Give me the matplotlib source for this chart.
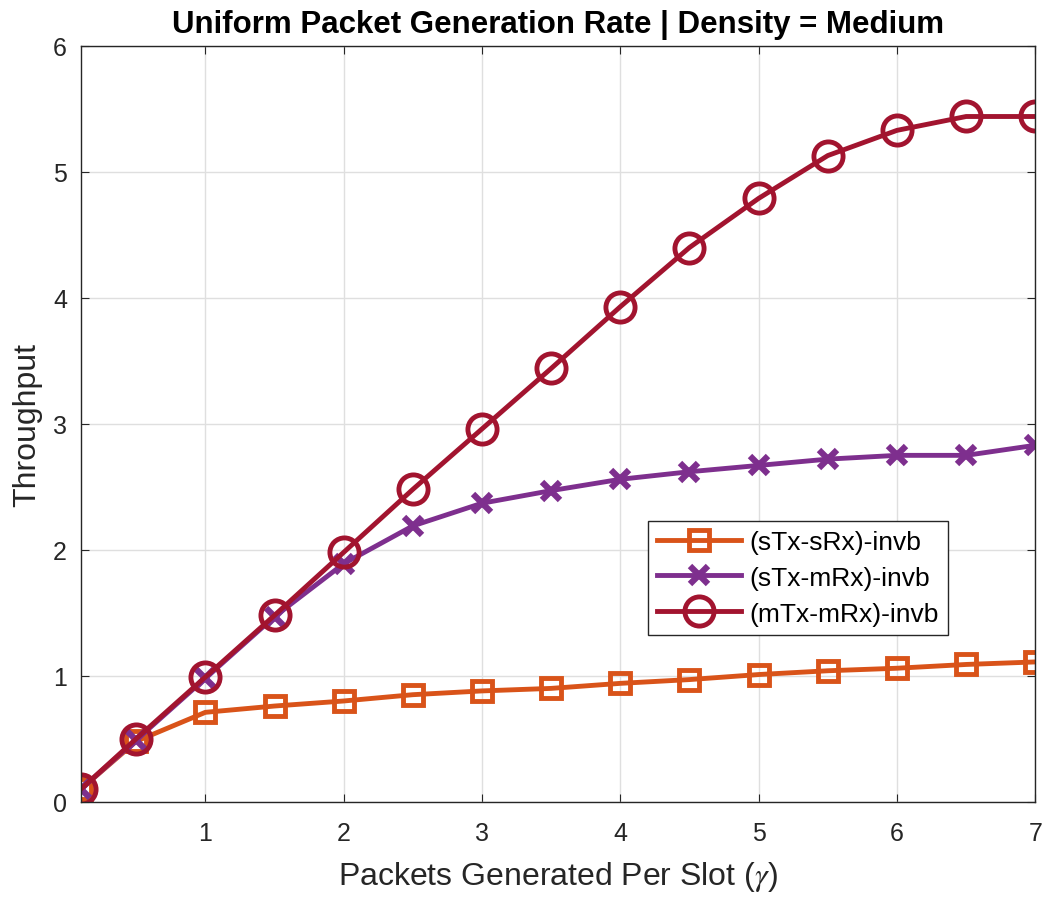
import matplotlib
matplotlib.use("Agg")
import matplotlib.pyplot as plt

plt.rcParams['font.family'] = ['Liberation Sans', 'DejaVu Sans']
plt.rcParams['mathtext.fontset'] = 'stix'

gamma = [0.1, 0.5, 1, 1.5, 2, 2.5, 3, 3.5, 4, 4.5, 5, 5.5, 6, 6.5, 7]
stx_srx = [0.10, 0.48, 0.71, 0.76, 0.80, 0.85, 0.88, 0.90, 0.94, 0.97, 1.01, 1.04, 1.06, 1.09, 1.11]
stx_mrx = [0.10, 0.49, 0.98, 1.47, 1.89, 2.19, 2.37, 2.47, 2.56, 2.62, 2.67, 2.72, 2.75, 2.75, 2.83]
mtx_mrx = [0.10, 0.50, 0.99, 1.48, 1.98, 2.48, 2.96, 3.44, 3.93, 4.40, 4.79, 5.13, 5.33, 5.44, 5.44]
labels = ['(sTx-sRx)-invb', '(sTx-mRx)-invb', '(mTx-mRx)-invb']
xticks = [1, 2, 3, 4, 5, 6, 7]
yticks = [0, 1, 2, 3, 4, 5, 6]

fig = plt.figure(figsize=(10.5, 9.03), dpi=100)
ax = fig.add_axes([0.077, 0.111, 0.909, 0.837])

ax.plot(gamma, stx_srx, color='#D95319', lw=3.5, marker='s', ms=14, mfc='none', mew=3.5, label=labels[0])
ax.plot(gamma, stx_mrx, color='#7E2F8E', lw=3.5, marker='x', ms=13, mew=4.5, label=labels[1])
ax.plot(gamma, mtx_mrx, color='#A2142F', lw=3.5, marker='o', ms=21, mfc='none', mew=3.5, label=labels[2])

ax.set_xlim(0.1, 7)
ax.set_ylim(0, 6)
ax.set_xticks(xticks)
ax.set_yticks(yticks)
ax.tick_params(direction='in', labelsize=18, length=6, colors='#262626', top=True, right=True, pad=10)
ax.tick_params(axis='x', pad=14)
ax.grid(True, color='#DFDFDF', lw=1)
ax.set_axisbelow(True)
for s in ax.spines.values():
    s.set_color('#262626')
    s.set_linewidth(1)

ax.set_xlabel(r'Packets Generated Per Slot ($\gamma$)', fontsize=23, color='#262626', labelpad=10)
ax.set_ylabel('Throughput', fontsize=23, color='#262626', labelpad=8)
ax.set_title('Uniform Packet Generation Rate | Density = Medium', fontsize=22.5, fontweight='bold', pad=10)

leg = ax.legend(loc='upper left', bbox_to_anchor=(0.594, 0.372), fontsize=19, frameon=True,
                fancybox=False, edgecolor='#262626', framealpha=1, handlelength=3.2,
                borderpad=0.35, labelspacing=0.45, handletextpad=0.3, borderaxespad=0)
leg.get_frame().set_linewidth(1)

fig.savefig('out.png', dpi=100)
